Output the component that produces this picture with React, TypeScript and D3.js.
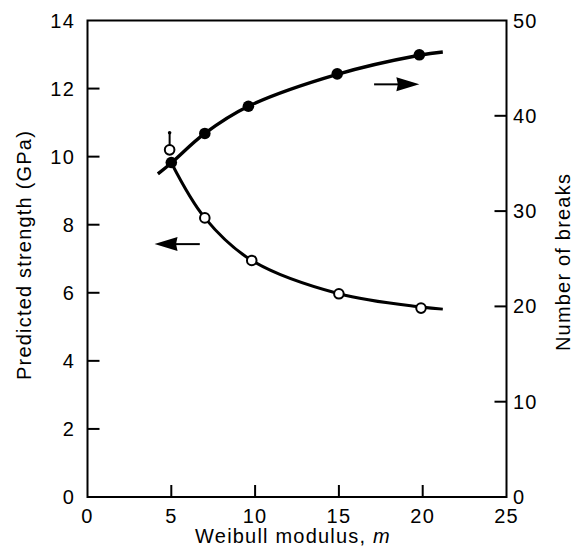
import React from "react";
import * as d3 from "d3";

// Weibull modulus for each measured point
const strengthM = [4.9, 7.0, 9.8, 15.0, 19.9];
const strengthGPa = [10.2, 8.2, 6.95, 5.97, 5.55];
const breaksM = [5.0, 7.0, 9.6, 14.9, 19.8];
const breaksN = [35.1, 38.15, 41.0, 44.4, 46.4];

// Hand-drawn fitted curves
const strengthFitM = [5.0, 7.0, 9.8, 15.0, 19.9, 21.2];
const strengthFitV = [9.82, 8.2, 6.95, 5.97, 5.58, 5.52];
const breaksFitM = [4.2, 5.0, 7.0, 9.6, 14.9, 19.8, 21.2];
const breaksFitV = [33.9, 35.05, 38.15, 41.0, 44.35, 46.35, 46.7];

// error bar on first strength point
const errTop = 10.7;

// axis ticks
const xTicks = [0, 5, 10, 15, 20, 25];
const leftTicks = [0, 2, 4, 6, 8, 10, 12, 14];
const rightTicks = [0, 10, 20, 30, 40, 50];

// direction arrows: [m start, m end, value]
const rightArrow = [17.1, 19.8, 43.3]; // on right axis
const leftArrow = [6.7, 4.0, 7.43]; // on left axis

const W = 575;
const H = 556;
const L = 87.5, R = 506.5, T = 20.5, B = 497;

export default function App() {
  const x = d3.scaleLinear().domain([0, 25]).range([L, R]);
  const yL = d3.scaleLinear().domain([0, 14]).range([B, T]);
  const yR = d3.scaleLinear().domain([0, 50]).range([B, T]);

  const strengthLine = d3
    .line<number>()
    .x((_, i) => x(strengthFitM[i]))
    .y((v) => yL(v))
    .curve(d3.curveCatmullRom.alpha(0.5));
  const breaksLine = d3
    .line<number>()
    .x((_, i) => x(breaksFitM[i]))
    .y((v) => yR(v))
    .curve(d3.curveCatmullRom.alpha(0.5));

  const font = "'Liberation Sans', Arial, Helvetica, sans-serif";
  const fs = 20;
  const ls = 1.2;
  const tickLen = 12;

  const arrow = (x1: number, x2: number, y: number, key: string) => {
    const dir = Math.sign(x2 - x1);
    const headLen = 23;
    const hw = 7;
    const base = x2 - dir * headLen;
    return (
      <g key={key}>
        <line x1={x1} x2={base + dir * 2} y1={y} y2={y} stroke="#000" strokeWidth={2} />
        <path d={`M${x2},${y} L${base},${y - hw} L${base + dir * 1.5},${y} L${base},${y + hw} Z`} fill="#000" />
      </g>
    );
  };

  return (
    <svg
      width={W}
      height={H}
      style={{ position: "absolute", left: 0, top: 0, background: "#fff" }}
      fontFamily={font}
    >
      <rect x={0} y={0} width={W} height={H} fill="#fff" />
      {/* frame */}
      <rect x={L} y={T} width={R - L} height={B - T} fill="none" stroke="#000" strokeWidth={2} />

      {/* x ticks */}
      {xTicks.map((t) => (
        <g key={"x" + t}>
          {t > 0 && t < 25 && (
            <line x1={x(t)} x2={x(t)} y1={B} y2={B - tickLen} stroke="#000" strokeWidth={2} />
          )}
          <text x={x(t)} y={523} textAnchor="middle" fontSize={fs} letterSpacing={ls}>
            {t}
          </text>
        </g>
      ))}
      {/* left ticks */}
      {leftTicks.map((t) => (
        <g key={"l" + t}>
          {t > 0 && t < 14 && (
            <line x1={L} x2={L + tickLen} y1={yL(t)} y2={yL(t)} stroke="#000" strokeWidth={2} />
          )}
          <text x={75} y={yL(t) + 7} textAnchor="end" fontSize={fs} letterSpacing={ls}>
            {t}
          </text>
        </g>
      ))}
      {/* right ticks */}
      {rightTicks.map((t) => (
        <g key={"r" + t}>
          {t > 0 && t < 50 && (
            <line x1={R} x2={R - tickLen} y1={yR(t)} y2={yR(t)} stroke="#000" strokeWidth={2} />
          )}
          <text x={513} y={yR(t) + 7} textAnchor="start" fontSize={fs} letterSpacing={ls}>
            {t}
          </text>
        </g>
      ))}

      {/* axis titles */}
      <text x={293} y={543} textAnchor="middle" fontSize={fs} letterSpacing={ls}>
        Weibull modulus, <tspan fontStyle="italic">m</tspan>
      </text>
      <text
        transform={`translate(31,255) rotate(-90)`}
        textAnchor="middle"
        fontSize={fs}
        letterSpacing={ls}
      >
        Predicted strength (GPa)
      </text>
      <text
        transform={`translate(570,262) rotate(-90)`}
        textAnchor="middle"
        fontSize={fs}
        letterSpacing={ls}
      >
        Number of breaks
      </text>

      {/* curves */}
      <path d={breaksLine(breaksFitV) || ""} fill="none" stroke="#000" strokeWidth={3.4} />
      <path d={strengthLine(strengthFitV) || ""} fill="none" stroke="#000" strokeWidth={3} />

      {/* error bar */}
      <line
        x1={x(strengthM[0])}
        x2={x(strengthM[0])}
        y1={yL(strengthGPa[0])}
        y2={yL(errTop)}
        stroke="#000"
        strokeWidth={2}
      />
      <circle cx={x(strengthM[0])} cy={yL(errTop)} r={1.8} fill="#000" />

      {/* markers */}
      {breaksM.map((m, i) => (
        <circle key={"b" + i} cx={x(m)} cy={yR(breaksN[i])} r={5.8} fill="#000" />
      ))}
      {strengthM.map((m, i) => (
        <circle
          key={"s" + i}
          cx={x(m)}
          cy={yL(strengthGPa[i])}
          r={4.8}
          fill="#fff"
          stroke="#000"
          strokeWidth={2}
        />
      ))}

      {/* arrows */}
      {arrow(x(rightArrow[0]), x(rightArrow[1]), yR(rightArrow[2]), "ra")}
      {arrow(x(leftArrow[0]), x(leftArrow[1]), yL(leftArrow[2]), "la")}
    </svg>
  );
}
